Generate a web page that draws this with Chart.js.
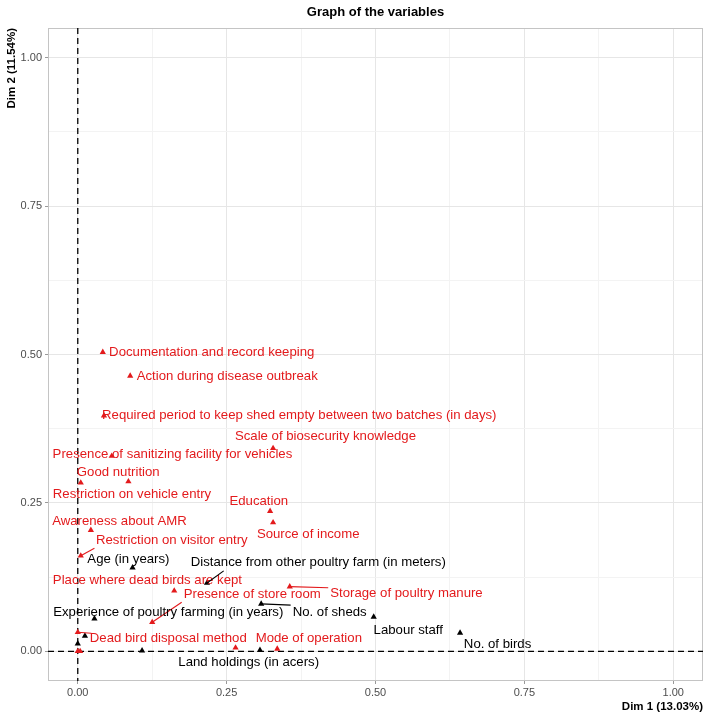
<!DOCTYPE html>
<html>
<head>
    <style>
        html, body { margin: 0; padding: 0; background: #fff; }
    </style>
    <script src="https://cdn.jsdelivr.net/npm/chart.js"></script>
</head>
<body>
    <canvas id="myChart" width="708" height="718"></canvas>
    <script>
        // active variables (red)
        var redNames = ['Documentation and record keeping', 'Action during disease outbreak',
            'Required period to keep shed empty between two batches (in days)', 'Scale of biosecurity knowledge',
            'Presence of sanitizing facility for vehicles', 'Good nutrition', 'Restriction on vehicle entry',
            'Education', 'Source of income', 'Awareness about AMR', 'Restriction on visitor entry',
            'Place where dead birds are kept', 'Storage of poultry manure', 'Presence of store room',
            'Dead bird disposal method', '', '', '', 'Mode of operation'];
        var redX = [0.042, 0.088, 0.044, 0.328, 0.057, 0.005, 0.085, 0.323, 0.328, 0.022, 0.005,
            0.162, 0.356, 0.125, 0.000, 0.000, 0.004, 0.265, 0.335];
        var redY = [0.504, 0.464, 0.397, 0.342, 0.329, 0.284, 0.286, 0.236, 0.217, 0.204, 0.161,
            0.102, 0.109, 0.049, 0.032, 0.000, 0.000, 0.006, 0.004];
        // where each red label sits (text centre)
        var redLabelX = [0.225, 0.251, 0.372, 0.416, 0.159, 0.068, 0.091, 0.304, 0.387, 0.070, 0.158,
            0.117, 0.552, 0.293, 0.152, 0, 0, 0, 0.388];
        var redLabelY = [0.503, 0.463, 0.397, 0.362, 0.331, 0.301, 0.264, 0.252, 0.197, 0.219, 0.187,
            0.119, 0.097, 0.096, 0.021, 0, 0, 0, 0.021];

        // supplementary variables (black)
        var blackNames = ['Age (in years)', 'Distance from other poultry farm (in meters)',
            'Experience of poultry farming (in years)', 'No. of sheds', 'Labour staff', 'No. of birds',
            '', 'Land holdings (in acers)', '', ''];
        var blackX = [0.092, 0.217, 0.028, 0.308, 0.497, 0.642, 0.108, 0.306, 0.000, 0.012];
        var blackY = [0.141, 0.115, 0.055, 0.080, 0.058, 0.031, 0.001, 0.002, 0.013, 0.026];
        var blackLabelX = [0.085, 0.404, 0.152, 0.423, 0.555, 0.705, 0, 0.287, 0, 0];
        var blackLabelY = [0.155, 0.149, 0.065, 0.065, 0.035, 0.011, 0, -0.019, 0, 0];

        var tickVals = [0, 0.125, 0.25, 0.375, 0.5, 0.625, 0.75, 0.875, 1];
        var majorVals = [0, 0.25, 0.5, 0.75, 1];

        var RED = '#e31a1c';
        var FONT = '"Liberation Sans", Arial, sans-serif';

        function toPoints(xs, ys) {
            return xs.map(function (x, i) { return { x: x, y: ys[i] }; });
        }

        function gridColor(ctx) {
            return majorVals.indexOf(ctx.tick.value) >= 0 ? '#e6e6e6' : '#f3f3f3';
        }
        function tickColor(ctx) {
            return majorVals.indexOf(ctx.tick.value) >= 0 ? '#999' : 'rgba(0,0,0,0)';
        }
        function setTicks(scale) {
            scale.ticks = tickVals.map(function (v) { return { value: v }; });
        }
        function tickLabel(v) {
            return majorVals.indexOf(v) >= 0 ? v.toFixed(2) : '';
        }
        function clamp(v, lo, hi) { return Math.min(Math.max(v, lo), hi); }

        var deco = {
            id: 'deco',
            beforeDatasetsDraw: function (chart) {
                var c = chart.ctx, a = chart.chartArea;
                var xs = chart.scales.x, ys = chart.scales.y;
                c.save();
                c.strokeStyle = '#c4c4c4';
                c.lineWidth = 1;
                c.strokeRect(a.left + 0.5, a.top + 0.5, a.right - a.left - 1, a.bottom - a.top - 1);
                // dashed reference lines
                c.strokeStyle = '#000';
                c.lineWidth = 1.3;
                c.setLineDash([6, 4]);
                var x0 = xs.getPixelForValue(0), y0 = ys.getPixelForValue(0);
                c.beginPath();
                c.moveTo(x0, a.top); c.lineTo(x0, a.bottom);
                c.moveTo(a.left, y0); c.lineTo(a.right, y0);
                c.stroke();
                c.restore();
            },
            afterDatasetsDraw: function (chart) {
                var c = chart.ctx;
                var xs = chart.scales.x, ys = chart.scales.y;
                c.save();
                c.font = '13.2px ' + FONT;
                c.textAlign = 'center';
                c.textBaseline = 'middle';
                function drawSet(names, px, py, lx, ly, color) {
                    names.forEach(function (t, i) {
                        if (!t) return;
                        var cx = xs.getPixelForValue(lx[i]), cy = ys.getPixelForValue(ly[i]);
                        var w = c.measureText(t).width, h = 14;
                        var l = cx - w / 2 - 2, r = cx + w / 2 + 2, tp = cy - h / 2 - 1, b = cy + h / 2 + 1;
                        var ppx = xs.getPixelForValue(px[i]), ppy = ys.getPixelForValue(py[i]);
                        var d = Math.hypot(clamp(ppx, l, r) - ppx, clamp(ppy, tp, b) - ppy);
                        if (d > 10) {
                            // end on the box, pulled a little toward the label centre
                            var nx = clamp(ppx + (cx - ppx) * 0.15, l, r);
                            var ny = clamp(ppy + (cy - ppy) * 0.15, tp, b);
                            c.strokeStyle = color;
                            c.lineWidth = 1.1;
                            c.beginPath();
                            c.moveTo(ppx, ppy);
                            c.lineTo(nx, ny);
                            c.stroke();
                        }
                        c.fillStyle = color;
                        c.fillText(t, cx, cy);
                    });
                }
                drawSet(redNames, redX, redY, redLabelX, redLabelY, RED);
                drawSet(blackNames, blackX, blackY, blackLabelX, blackLabelY, '#000');
                c.restore();
            },
            afterDraw: function (chart) {
                var c = chart.ctx, a = chart.chartArea;
                c.save();
                c.fillStyle = '#000';
                c.font = 'bold 13px ' + FONT;
                c.textAlign = 'center';
                c.textBaseline = 'middle';
                c.fillText('Graph of the variables', (a.left + a.right) / 2, 12);
                c.font = 'bold 11.5px ' + FONT;
                c.textAlign = 'right';
                c.fillText('Dim 1 (13.03%)', a.right, 707);
                c.translate(12, a.top);
                c.rotate(-Math.PI / 2);
                c.textAlign = 'right';
                c.fillText('Dim 2 (11.54%)', 0, 0);
                c.restore();
            }
        };

        var ctx = document.getElementById('myChart').getContext('2d');
        var myChart = new Chart(ctx, {
            type: 'scatter',
            data: {
                datasets: [{
                    label: 'Active',
                    data: toPoints(redX, redY),
                    pointStyle: 'triangle',
                    radius: 3.6,
                    backgroundColor: RED,
                    borderWidth: 0
                }, {
                    label: 'Supplementary',
                    data: toPoints(blackX, blackY),
                    pointStyle: 'triangle',
                    radius: 3.6,
                    backgroundColor: '#000',
                    borderWidth: 0
                }]
            },
            options: {
                responsive: false,
                animation: false,
                devicePixelRatio: 1,
                layout: { padding: { top: 28, right: 5, left: 0, bottom: 0 } },
                plugins: {
                    legend: { display: false },
                    tooltip: { enabled: false }
                },
                scales: {
                    x: {
                        type: 'linear',
                        min: -0.05,
                        max: 1.05,
                        afterBuildTicks: setTicks,
                        afterFit: function (s) { s.height = 37; },
                        border: { display: false },
                        grid: { color: gridColor, tickColor: tickColor, tickLength: 3 },
                        ticks: {
                            callback: tickLabel,
                            color: '#4d4d4d',
                            padding: 2,
                            maxRotation: 0,
                            autoSkip: false,
                            font: { family: FONT, size: 11 }
                        }
                    },
                    y: {
                        type: 'linear',
                        min: -0.05,
                        max: 1.05,
                        afterBuildTicks: setTicks,
                        afterFit: function (s) { s.width = 48; },
                        border: { display: false },
                        grid: { color: gridColor, tickColor: tickColor, tickLength: 3 },
                        ticks: {
                            callback: tickLabel,
                            color: '#4d4d4d',
                            padding: 3,
                            autoSkip: false,
                            font: { family: FONT, size: 11 }
                        }
                    }
                }
            },
            plugins: [deco]
        });
    </script>
</body>
</html>
